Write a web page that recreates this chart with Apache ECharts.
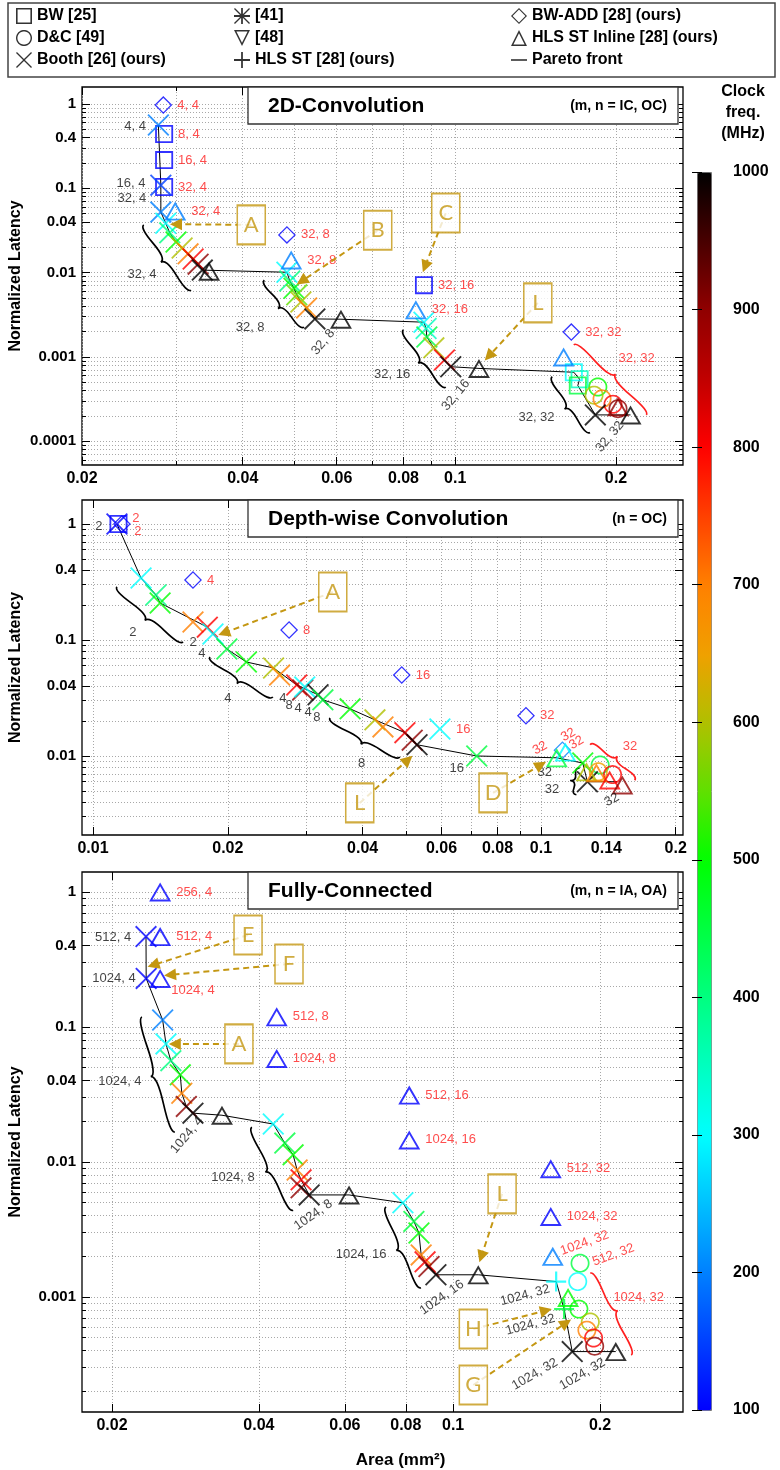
<!DOCTYPE html>
<html><head><meta charset="utf-8">
<script src="https://cdn.jsdelivr.net/npm/echarts@6/dist/echarts.min.js"></script>
<style>html,body{margin:0;padding:0;background:#fff}#c{width:780px;height:1470px}</style>
</head><body><div id="c"></div>
<script>
// ======================= DATA =======================
// marker rows: [area (mm^2), normalized latency, clock freq (MHz), red label]
// ---- 2D convolution ----
const conv2dBW = [[0.0285,0.44,100,'8, 4'],[0.0285,0.216,100,'16, 4'],[0.0285,0.1035,100,'32, 4'],[0.0874,0.0071,100,'32, 16'],
  [0.1668,0.000658,300,''],[0.171,0.000544,350,''],[0.1697,0.000458,450,'']];
const conv2dDC = [[0.185,0.00044,500,''],[0.182,0.000352,600,''],[0.1884,0.000318,700,''],[0.1975,0.000274,800,''],[0.2018,0.000243,900,'']];
const conv2dBooth = [[0.0278,0.563,200,''],[0.0281,0.109,150,''],[0.0281,0.0522,200,''],[0.0287,0.0385,300,''],[0.0292,0.0296,400,''],
  [0.030,0.0231,500,''],[0.0308,0.0196,600,''],[0.0316,0.0167,700,''],[0.0323,0.0145,800,''],[0.033,0.0126,900,''],[0.0336,0.0107,1000,''],
  [0.0484,0.0101,300,''],[0.049,0.00795,400,''],[0.0499,0.00653,500,''],[0.0505,0.00545,550,''],[0.0514,0.00448,600,''],[0.0527,0.00381,700,''],[0.0546,0.00282,1000,''],
  [0.0874,0.00258,300,''],[0.0882,0.00217,350,''],[0.0885,0.00172,450,''],[0.0912,0.00128,600,''],[0.0955,0.000921,800,''],[0.0981,0.000765,1000,''],
  [0.183,0.000205,1000,'']];
const conv2dHLSST = [];
const conv2dBWADD = [[0.0284,0.97,100,'4, 4'],[0.0484,0.028,100,'32, 8'],[0.165,0.00197,100,'32, 32']];
const conv2dInline = [[0.0299,0.0537,200,'32, 4'],[0.0346,0.0104,1000,''],[0.0493,0.0141,200,'32, 8'],[0.0611,0.0028,1000,''],
  [0.0844,0.00362,200,'32, 16'],[0.1108,0.00073,1000,''],[0.1596,0.001,200,''],[0.2018,0.000256,900,''],[0.213,0.000205,1000,'']];
const conv2dPareto = [[0.0278,0.563],[0.0281,0.109],[0.0281,0.0522],[0.0287,0.0385],[0.0292,0.0296],[0.030,0.0231],[0.0308,0.0196],
  [0.0316,0.0167],[0.0323,0.0145],[0.033,0.0126],[0.0336,0.0107],[0.0484,0.0101],[0.049,0.00795],[0.0499,0.00653],[0.0505,0.00545],
  [0.0514,0.00448],[0.0527,0.00381],[0.0546,0.00282],[0.0611,0.0028],[0.0874,0.00258],[0.0882,0.00217],[0.0885,0.00172],[0.0912,0.00128],
  [0.0955,0.000921],[0.0981,0.000765],[0.1108,0.00073],[0.1668,0.000658],[0.171,0.000544],[0.1697,0.000458],[0.183,0.000205],[0.213,0.000205]];
// text annotations: [area, latency, text, rotation]
const conv2dTextBlack = [[0.02514,0.548,'4, 4',0],[0.0247,0.1158,'16, 4',0],[0.0248,0.0767,'32, 4',0],[0.0259,0.00963,'32, 4',0],
  [0.0413,0.00226,'32, 8',0],[0.0566,0.0015,'32, 8',50],[0.0762,0.000617,'32, 16',0],[0.1003,0.000352,'32, 16',50],
  [0.142,0.000191,'32, 32',0],[0.1948,0.000113,'32, 32',50]];
const conv2dTextRed = [[0.2186,0.000969,'32, 32',0]];
// braces: [area1, lat1, area2, lat2]
const conv2dBraceBlack = [[0.0261,0.0368,0.032,0.0062],[0.0439,0.00814,0.0521,0.00226],[0.08,0.00209,0.096,0.000438],[0.152,0.000581,0.1788,0.000127]];
const conv2dBraceRed = [[0.228,0.000205,0.1668,0.00139]];
// callouts: [box area, box latency, letter, target area, target latency]
const conv2dCallouts = [[0.0415,0.0368,'A',0.030,0.0375],[0.0716,0.0318,'B',0.0516,0.00793],[0.096,0.0509,'C',0.0878,0.0118],[0.1428,0.00437,'L',0.1156,0.00102]];

// ---- Depth-wise convolution ----
const dwBW = [[0.0114,1.0,100,'']];
const dwDC = [[0.1356,0.00836,450,''],[0.1343,0.00731,650,''],[0.1445,0.00691,800,'']];
const dwBooth = [[0.01131,1.0,100,''],[0.0128,0.342,300,''],[0.01382,0.2445,400,''],[0.01412,0.2085,500,''],[0.01672,0.143,700,''],
  [0.018,0.129,800,''],[0.01853,0.1127,300,''],[0.0199,0.0837,450,''],[0.022,0.0646,500,''],[0.0253,0.0574,600,''],[0.0261,0.0498,700,''],
  [0.0285,0.0409,800,''],[0.0294,0.0371,900,''],[0.0297,0.0394,300,''],[0.0318,0.0337,1000,''],[0.0326,0.0305,450,''],[0.0375,0.0255,500,''],
  [0.0426,0.0205,600,''],[0.0444,0.0178,700,''],[0.0497,0.0159,800,''],[0.0516,0.0137,900,''],[0.0529,0.0125,1000,''],[0.0595,0.0171,300,'16'],
  [0.0719,0.01,450,''],[0.124,0.0087,500,''],[0.127,0.006,1000,'']];
const dwHLSST = [];
const dwBWADD = [[0.0116,1.0,100,''],[0.01672,0.329,100,'4'],[0.0274,0.122,100,'8'],[0.0489,0.0499,100,'16'],[0.0926,0.0222,100,'32'],[0.1117,0.0112,200,'']];
const dwInline = [[0.1134,0.0108,300,''],[0.1085,0.00965,450,''],[0.1264,0.00731,600,''],[0.133,0.00718,700,''],[0.1424,0.00622,800,''],[0.152,0.00562,900,'']];
const dwPareto = [[0.01131,1.0],[0.0128,0.342],[0.01382,0.2445],[0.01412,0.2085],[0.018,0.129],[0.01853,0.1127],[0.0199,0.0837],[0.022,0.0646],
  [0.0253,0.0574],[0.0285,0.0409],[0.0318,0.0337],[0.0326,0.0305],[0.0375,0.0255],[0.0426,0.0205],[0.0497,0.0159],[0.0529,0.0125],
  [0.0719,0.01],[0.1085,0.00965],[0.124,0.0087],[0.127,0.006],[0.148,0.006]];
const dwTextBlack = [[0.0103,0.961,'2',0],[0.01228,0.117,'2',0],[0.01672,0.0944,'2',0],[0.0175,0.0772,'4',0],[0.02,0.0311,'4',0],
  [0.02655,0.0316,'4',0],[0.0274,0.0275,'8',0],[0.0287,0.0258,'4',0],[0.0302,0.0236,'4',0],[0.0316,0.0213,'8',0],[0.0398,0.0087,'8',0],
  [0.0649,0.00786,'16',0],[0.102,0.00718,'32',0],[0.1058,0.00511,'32',0],[0.144,0.00419,'32',30]];
const dwTextRed = [[0.01247,1.127,'2',0],[0.01259,0.87,'2',0],[0.0995,0.0117,'32',30],[0.115,0.0152,'32',30],[0.12,0.013,'32',30],[0.158,0.0122,'32',0]];
const dwBraceBlack = [[0.01131,0.287,0.01588,0.0963],[0.01824,0.0714,0.0252,0.0323],[0.0338,0.0213,0.0484,0.00981],[0.122,0.00786,0.12,0.00463]];
const dwBraceRed = [[0.162,0.00619,0.1288,0.0125]];
const dwCallouts = [[0.0343,0.259,'A',0.0196,0.115],[0.0394,0.00394,'L',0.0505,0.00927],[0.0782,0.00481,'D',0.1,0.00838]];

// ---- Fully-connected ----
const fcBW = [];
const fcDC = [[0.182,0.00178,450,''],[0.180,0.0013,300,''],[0.181,0.000813,500,''],[0.191,0.000653,600,''],[0.188,0.000568,700,''],
  [0.194,0.000497,800,''],[0.195,0.000432,900,'']];
const fcBooth = [[0.02348,0.467,100,''],[0.0235,0.229,100,''],[0.0254,0.1126,200,''],[0.0258,0.0749,300,''],[0.0264,0.0563,400,''],
  [0.0276,0.0442,500,''],[0.0278,0.0323,700,''],[0.0284,0.0258,900,''],[0.0293,0.023,1000,''],
  [0.0428,0.0191,300,''],[0.0452,0.0138,450,''],[0.047,0.0113,500,''],[0.0479,0.00872,700,''],[0.0488,0.00737,800,''],[0.0488,0.00643,900,''],[0.0507,0.0057,1000,''],
  [0.0789,0.00499,300,''],[0.0831,0.00363,450,''],[0.0851,0.00298,500,''],[0.086,0.00205,700,''],[0.0876,0.00182,800,''],[0.0892,0.00168,900,''],[0.0922,0.00146,1000,''],
  [0.1754,0.000394,1000,'']];
const fcHLSST = [[0.1626,0.0013,300,''],[0.1688,0.000813,450,'']];
const fcBWADD = [];
const fcInline = [[0.0251,1.0,100,'256, 4'],[0.0251,0.467,100,'512, 4'],[0.0251,0.229,100,''],[0.0336,0.0222,1000,''],
  [0.0435,0.119,100,'512, 8'],[0.0435,0.0585,100,'1024, 8'],[0.0612,0.0057,1000,''],[0.0813,0.0313,100,'512, 16'],[0.0813,0.01457,100,'1024, 16'],
  [0.1126,0.00146,1000,''],[0.1585,0.00892,100,'512, 32'],[0.1585,0.00395,100,'1024, 32'],[0.160,0.002,200,''],[0.172,0.000991,500,''],[0.2154,0.000394,1000,'']];
const fcPareto = [[0.02348,0.467],[0.0235,0.229],[0.0254,0.1126],[0.0258,0.0749],[0.0264,0.0563],[0.0276,0.0442],[0.0278,0.0323],[0.0284,0.0258],
  [0.0293,0.023],[0.0336,0.0222],[0.0428,0.0191],[0.0452,0.0138],[0.047,0.0113],[0.0479,0.00872],[0.0488,0.00737],[0.0507,0.0057],[0.0612,0.0057],
  [0.0789,0.00499],[0.0831,0.00363],[0.0851,0.00298],[0.086,0.00205],[0.0876,0.00182],[0.0922,0.00146],[0.1126,0.00146],[0.1626,0.0013],
  [0.1688,0.000813],[0.1754,0.000394],[0.2154,0.000394]];
const fcTextBlack = [[0.0201,0.464,'512, 4',0],[0.02019,0.2304,'1024, 4',0],[0.02076,0.0398,'1024, 4',0],[0.0285,0.0158,'1024, 4',50],
  [0.0354,0.00774,'1024, 8',0],[0.0517,0.00405,'1024, 8',35],[0.0648,0.00205,'1024, 16',0],[0.0948,0.000992,'1024, 16',35],
  [0.1404,0.00103,'1024, 32',15],[0.144,0.000622,'1024, 32',15],[0.147,0.000268,'1024, 32',30],[0.184,0.000268,'1024, 32',30]];
const fcTextRed = [[0.0293,0.188,'1024, 4',0],[0.186,0.00251,'1024, 32',20],[0.213,0.00205,'512, 32',20],[0.24,0.000992,'1024, 32',0]];
const fcBraceBlack = [[0.02304,0.1185,0.0269,0.0167],[0.0387,0.0181,0.047,0.00439],[0.0729,0.00464,0.0859,0.00117]];
const fcBraceRed = [[0.2316,0.000371,0.191,0.0015]];
const fcCallouts = [[0.038,0.48,'E',0.0243,0.288],[0.0461,0.293,'F',0.0263,0.243],[0.0364,0.0749,'A',0.0269,0.0749],
  [0.126,0.00581,'L',0.1142,0.00199],[0.110,0.000579,'H',0.155,0.000793],[0.110,0.000223,'G',0.1704,0.000643]];

// ---- tick labels & grid values ----
const conv2dXTicks = [0.02,0.04,0.06,0.08,0.1,0.2];
const conv2dXGrid = [0.02,0.03,0.04,0.05,0.06,0.07,0.08,0.09,0.1,0.2];
const conv2dYTicks = [1,0.4,0.1,0.04,0.01,0.001,0.0001];
const dwXTicks = [0.01,0.02,0.04,0.06,0.08,0.1,0.14,0.2];
const dwXGrid = [0.01,0.02,0.03,0.04,0.05,0.06,0.07,0.08,0.09,0.1,0.14,0.2];
const dwYTicks = [1,0.4,0.1,0.04,0.01];
const fcXTicks = [0.02,0.04,0.06,0.08,0.1,0.2];
const fcXGrid = [0.02,0.04,0.06,0.08,0.1,0.2];
const fcYTicks = [1,0.4,0.1,0.04,0.01,0.001];
const freqRange = [100,1000];

// ======================= STYLE / LAYOUT =======================
const FONT = "'Liberation Sans', Arial, Helvetica, sans-serif";
const GOLD = '#c49712';
const RED = '#ff2020';
const GRID_LEFT = 82, GRID_W = 601;
const panels = [
  {title:'2D-Convolution', sub:'(m, n = IC, OC)', top:87, height:378, xr:[0.02,0.2671], yr:[5.22e-5,1.591],
   xTicks:conv2dXTicks, xGrid:conv2dXGrid, yTicks:conv2dYTicks,
   BW:conv2dBW, DC:conv2dDC, Booth:conv2dBooth, HLSST:conv2dHLSST, BWADD:conv2dBWADD, Inline:conv2dInline, pareto:conv2dPareto,
   tb:conv2dTextBlack, tr:conv2dTextRed, bb:conv2dBraceBlack, br:conv2dBraceRed, co:conv2dCallouts},
  {title:'Depth-wise Convolution', sub:'(n = OC)', top:500, height:335, xr:[0.00945,0.2076], yr:[0.002084,1.61],
   xTicks:dwXTicks, xGrid:dwXGrid, yTicks:dwYTicks,
   BW:dwBW, DC:dwDC, Booth:dwBooth, HLSST:dwHLSST, BWADD:dwBWADD, Inline:dwInline, pareto:dwPareto,
   tb:dwTextBlack, tr:dwTextRed, bb:dwBraceBlack, br:dwBraceRed, co:dwCallouts},
  {title:'Fully-Connected', sub:'(m, n = IA, OA)', top:872, height:540, xr:[0.01736,0.2958], yr:[1.406e-4,1.406],
   xTicks:fcXTicks, xGrid:fcXGrid, yTicks:fcYTicks,
   BW:fcBW, DC:fcDC, Booth:fcBooth, HLSST:fcHLSST, BWADD:fcBWADD, Inline:fcInline, pareto:fcPareto,
   tb:fcTextBlack, tr:fcTextRed, bb:fcBraceBlack, br:fcBraceRed, co:fcCallouts}
];

// symbol outlines (0..100 box, holes by reverse winding)
function ringCircle(n, r1, r2){
  let s='';
  for(let i=0;i<=n;i++){const a=2*Math.PI*i/n; s+=(i?'L':'M')+(50+r1*Math.cos(a)).toFixed(2)+','+(50+r1*Math.sin(a)).toFixed(2);}
  s+='Z';
  for(let i=0;i<=n;i++){const a=-2*Math.PI*i/n; s+=(i?'L':'M')+(50+r2*Math.cos(a)).toFixed(2)+','+(50+r2*Math.sin(a)).toFixed(2);}
  return s+'Z';
}
const P_SQUARE = 'M0,0L100,0L100,100L0,100Z M10,10L10,90L90,90L90,10Z';
const P_CIRCLE = ringCircle(48,50,41);
const P_TRI = 'M50,0L100,100L0,100Z M50,20L15,90L85,90Z';
const P_INVTRI = 'M0,0L100,0L50,100Z M15,10L50,80L85,10Z';
const P_DIAMOND = 'M50,0L100,50L50,100L0,50Z M50,10L10,50L50,90L90,50Z';
const P_X = 'M0,6L6,0L50,44L94,0L100,6L56,50L100,94L94,100L50,56L6,100L0,94L44,50Z';
const P_PLUS = 'M44.5,0L55.5,0L55.5,44.5L100,44.5L100,55.5L55.5,55.5L55.5,100L44.5,100L44.5,55.5L0,55.5L0,44.5L44.5,44.5Z';
const P_LINE = 'M0,0L100,0L100,8L0,8Z';
const P_HEAD = 'M50,0L100,100L0,100Z';
const sym = p => 'path://' + p;

const markerTypes = [
  {key:'BW', name:'BW [25]', path:P_SQUARE, size:[18,18]},
  {key:'DC', name:'D&C [49]', path:P_CIRCLE, size:[19,19]},
  {key:'Booth', name:'Booth [26] (ours)', path:P_X, size:[22,22]},
  {key:'HLSST', name:'HLS ST [28] (ours)', path:P_PLUS, size:[20,20]},
  {key:'BWADD', name:'BW-ADD [28] (ours)', path:P_DIAMOND, size:[18,18]},
  {key:'Inline', name:'HLS ST Inline [28] (ours)', path:P_TRI, size:[22,19]}
];

function bracePath(x1,y1,x2,y2,w,q){
  let dx=x1-x2, dy=y1-y2; const len=Math.hypot(dx,dy); dx/=len; dy/=len;
  const qx1=x1+q*w*dy, qy1=y1-q*w*dx;
  const qx2=(x1-.25*len*dx)+(1-q)*w*dy, qy2=(y1-.25*len*dy)-(1-q)*w*dx;
  const tx=(x1-.5*len*dx)+w*dy, ty=(y1-.5*len*dy)-w*dx;
  const qx3=x2+q*w*dy, qy3=y2-q*w*dx;
  const qx4=(x1-.75*len*dx)+(1-q)*w*dy, qy4=(y1-.75*len*dy)-(1-q)*w*dx;
  const c1x=2*qx2-qx1, c1y=2*qy2-qy1, c2x=2*qx4-qx3, c2y=2*qy4-qy3;
  const f=v=>v.toFixed(2);
  return `M${f(x1)} ${f(y1)} Q${f(qx1)} ${f(qy1)} ${f(qx2)} ${f(qy2)} Q${f(c1x)} ${f(c1y)} ${f(tx)} ${f(ty)} M${f(x2)} ${f(y2)} Q${f(qx3)} ${f(qy3)} ${f(qx4)} ${f(qy4)} Q${f(c2x)} ${f(c2y)} ${f(tx)} ${f(ty)}`;
}

const fmt = v => String(+v.toPrecision(6));
const isTick = (v, arr) => arr.some(t => Math.abs(v - t) / t < 1e-6);

const grids = [], xAxes = [], yAxes = [], series = [], markerIdx = [];
panels.forEach((p, i) => {
  grids.push({left:GRID_LEFT, top:p.top, width:GRID_W, height:p.height, show:true, borderColor:'#000', borderWidth:1.3, backgroundColor:'transparent'});
  xAxes.push({type:'log', logBase:10, gridIndex:i, min:p.xr[0], max:p.xr[1], axisLine:{show:false}, axisTick:{show:false},
    axisLabel:{show:false}, splitLine:{show:false},
    name: i === 2 ? 'Area (mm²)' : '', nameLocation:'middle', nameGap:40,
    nameTextStyle:{fontFamily:FONT, fontWeight:'bold', fontSize:17, color:'#000', padding:[0,0,0,36]}});
  yAxes.push({type:'log', logBase:10, gridIndex:i, min:p.yr[0], max:p.yr[1], axisLine:{show:false}, axisTick:{show:false},
    axisLabel:{show:false}, splitLine:{show:false},
    name:'Normalized Latency', nameLocation:'middle', nameGap:58,
    nameTextStyle:{fontFamily:FONT, fontWeight:'bold', fontSize:16, color:'#000'}});

  const [x0, x1] = p.xr, [y0, y1] = p.yr;
  const yGrid = [];
  for (let n = Math.floor(Math.log10(y0)); n <= Math.ceil(Math.log10(y1)); n++)
    for (let k = 1; k <= 9; k++) { const v = +(k * Math.pow(10, n)).toPrecision(6); if (v >= y0 && v <= y1) yGrid.push(v); }
  const pxDecX = GRID_W / Math.log10(x1 / x0), pxDecY = p.height / Math.log10(y1 / y0);
  const lenF = (px, dec) => Math.pow(10, px / dec);

  // horizontal grid lines + y tick labels
  series.push({type:'line', xAxisIndex:i, yAxisIndex:i, data:[], silent:true, z:1,
    markLine:{silent:true, symbol:['none','none'], z:1, animation:false,
      lineStyle:{color:'#a8a8a8', type:[1,2], width:1},
      label:{show:true, position:'start', formatter:'{b}', distance:6, fontFamily:FONT, fontWeight:'bold', fontSize:15, color:'#000'},
      emphasis:{disabled:true},
      data: yGrid.map(v => [{coord:[x0, v], name: isTick(v, p.yTicks) ? fmt(v) : ''}, {coord:[x1, v]}])}});
  // vertical grid lines + x tick labels
  series.push({type:'line', xAxisIndex:i, yAxisIndex:i, data:[], silent:true, z:1,
    markLine:{silent:true, symbol:['none','none'], z:1, animation:false,
      lineStyle:{color:'#a8a8a8', type:[1,2], width:1},
      label:{show:true, position:'start', formatter:'{b}', distance:6, fontFamily:FONT, fontWeight:'bold', fontSize:16, color:'#000'},
      emphasis:{disabled:true},
      data: p.xGrid.map(v => [{coord:[v, y0], name: isTick(v, p.xTicks) ? fmt(v) : ''}, {coord:[v, y1]}])}});
  // tick marks
  const ticks = [];
  yGrid.forEach(v => { const L = isTick(v, p.yTicks) ? 8 : 4; const f = lenF(L, pxDecX);
    ticks.push([{coord:[x0, v]}, {coord:[x0 * f, v]}]); ticks.push([{coord:[x1, v]}, {coord:[x1 / f, v]}]); });
  p.xGrid.forEach(v => { const L = isTick(v, p.xTicks) ? 8 : 4; const f = lenF(L, pxDecY);
    ticks.push([{coord:[v, y0]}, {coord:[v, y0 * f]}]); ticks.push([{coord:[v, y1]}, {coord:[v, y1 / f]}]); });
  series.push({type:'line', xAxisIndex:i, yAxisIndex:i, data:[], silent:true, z:1,
    markLine:{silent:true, symbol:['none','none'], z:2, animation:false, label:{show:false},
      lineStyle:{color:'#000', type:'solid', width:1}, emphasis:{disabled:true}, data:ticks}});

  // braces
  [[p.bb, '#000'], [p.br, RED]].forEach(([arr, col]) => {
    series.push({type:'custom', xAxisIndex:i, yAxisIndex:i, silent:true, z:3, data:arr,
      renderItem:(params, api) => {
        const a = api.coord([api.value(0), api.value(1)]), b = api.coord([api.value(2), api.value(3)]);
        return {type:'path', shape:{pathData: bracePath(a[0], a[1], b[0], b[1], 8, 0.6)},
          style:{stroke:col, fill:'none', lineWidth:1.7}};
      }});
  });

  // pareto line
  series.push({type:'line', name:'Pareto front', xAxisIndex:i, yAxisIndex:i, data:p.pareto, symbol:'none', silent:true, z:3,
    lineStyle:{color:'#000', width:1}, emphasis:{disabled:true}});

  // markers
  markerTypes.forEach(mt => {
    markerIdx.push(series.length);
    series.push({type:'scatter', name:mt.name, xAxisIndex:i, yAxisIndex:i, data:p[mt.key], symbol:sym(mt.path), symbolSize:mt.size, z:4,
      silent:true, emphasis:{disabled:true},
      label:{show:true, position:'right', distance:5, color:RED, fontSize:13, fontFamily:FONT,
        formatter: q => (q.value && q.value[3]) || ''}});
  });

  // text annotations
  [[p.tb, '#111'], [p.tr, RED]].forEach(([arr, col]) => {
    series.push({type:'scatter', xAxisIndex:i, yAxisIndex:i, symbol:'circle', symbolSize:1, silent:true, z:6,
      itemStyle:{color:'rgba(0,0,0,0)'}, emphasis:{disabled:true},
      data: arr.map(a => ({value:[a[0], a[1]], name:a[2], label:{rotate:a[3] || 0}})),
      label:{show:true, position:'inside', formatter:'{b}', color:col, fontSize:13, fontFamily:FONT}});
  });

  // callout arrows (under boxes) and boxes
  series.push({type:'line', xAxisIndex:i, yAxisIndex:i, data:[], silent:true, z:7,
    markLine:{silent:true, z:7, animation:false, symbol:['none', sym(P_HEAD)], symbolSize:12, label:{show:false},
      itemStyle:{color:GOLD},
      lineStyle:{color:GOLD, width:2, type:[6,4]}, emphasis:{disabled:true},
      data: p.co.map(a => [{coord:[a[0], a[1]]}, {coord:[a[3], a[4]]}])}});
  series.push({type:'scatter', xAxisIndex:i, yAxisIndex:i, symbol:'rect', symbolSize:[28,39], silent:true, z:10,
    itemStyle:{color:'#fff', borderColor:GOLD, borderWidth:1.8}, emphasis:{disabled:true},
    data: p.co.map(a => ({value:[a[0], a[1]], name:a[2]})),
    label:{show:true, position:'inside', formatter:'{b}', color:GOLD, fontSize:22, fontFamily:'Lato'}});
});

// legend-only series
markerIdx.push(series.length);
series.push({type:'scatter', name:'[41]', xAxisIndex:0, yAxisIndex:0, data:[], symbol:sym(P_X + ' ' + P_PLUS)});
markerIdx.push(series.length);
series.push({type:'scatter', name:'[48]', xAxisIndex:0, yAxisIndex:0, data:[], symbol:sym(P_INVTRI)});

// colorbar axis grid
grids.push({left:697, top:172, width:14, height:1238, show:false});
xAxes.push({type:'value', gridIndex:3, show:false});
yAxes.push({type:'value', gridIndex:3, min:freqRange[0], max:freqRange[1], interval:100, position:'right', z:10,
  axisLine:{show:false}, splitLine:{show:false},
  axisTick:{show:true, inside:true, length:5, lineStyle:{color:'#000', width:1}},
  axisLabel:{margin:22, fontFamily:FONT, fontWeight:'bold', fontSize:16, color:'#000', formatter: v => String(v)}});
yAxes.push({type:'value', gridIndex:3, min:freqRange[0], max:freqRange[1], interval:100, position:'left', z:10,
  axisLine:{show:false}, splitLine:{show:false}, axisLabel:{show:false},
  axisTick:{show:true, inside:true, length:5, lineStyle:{color:'#000', width:1}}});

const legendItem = (name, path) => ({name, icon:sym(path), itemStyle:{color:'#000', borderWidth:0}});
const legendBase = {orient:'vertical', top:8, itemWidth:16, itemHeight:16, itemGap:6, padding:0, selectedMode:false,
  textStyle:{fontFamily:FONT, fontWeight:'bold', fontSize:16, color:'#000'}};

const option = {
  animation:false,
  backgroundColor:'#fff',
  grid: grids, xAxis: xAxes, yAxis: yAxes,
  legend: [
    Object.assign({left:16, data:[legendItem('BW [25]', P_SQUARE), legendItem('D&C [49]', P_CIRCLE), legendItem('Booth [26] (ours)', P_X)]}, legendBase),
    Object.assign({left:234, data:[legendItem('[41]', P_X + ' ' + P_PLUS), legendItem('[48]', P_INVTRI), legendItem('HLS ST [28] (ours)', P_PLUS)]}, legendBase),
    Object.assign({left:511, data:[legendItem('BW-ADD [28] (ours)', P_DIAMOND), legendItem('HLS ST Inline [28] (ours)', P_TRI), legendItem('Pareto front', P_LINE)]}, legendBase)
  ],
  visualMap: {
    type:'continuous', min:freqRange[0], max:freqRange[1], dimension:2, seriesIndex:markerIdx,
    left:697, top:172, itemWidth:14, itemHeight:1238, padding:0, calculable:false, hoverLink:false,
    borderColor:'#777', borderWidth:1,
    inRange:{color:['#0000ff','#0040ff','#0080ff','#00c0ff','#00ffff','#00ffc0','#00ff80','#00ff40','#00ff00','#60e000',
      '#b0c000','#f0a000','#ff8000','#ff4000','#ff0000','#c00000','#900000','#480000','#000000']}
  },
  graphic: [
    {type:'rect', z:50, silent:true, shape:{x:8, y:3, width:767, height:74}, style:{fill:'none', stroke:'#444', lineWidth:1.5}},
    ...panels.flatMap(p => [
      {type:'rect', z:50, silent:true, shape:{x:248, y:p.top, width:430, height:37}, style:{fill:'#fff', stroke:'#333', lineWidth:1.3}},
      {type:'text', z:51, silent:true, x:268, y:p.top + 19, style:{text:p.title, font:`bold 21px ${FONT}`, fill:'#000', textVerticalAlign:'middle'}},
      {type:'text', z:51, silent:true, x:667, y:p.top + 19, style:{text:p.sub, font:`bold 14px ${FONT}`, fill:'#000', textAlign:'right', textVerticalAlign:'middle'}}
    ]),
    {type:'text', z:50, silent:true, x:743, y:113, style:{text:'Clock\nfreq.\n(MHz)', font:`bold 16px ${FONT}`, fill:'#000', textAlign:'center', textVerticalAlign:'middle', lineHeight:21}}
  ],
  series
};

const chart = echarts.init(document.getElementById('c'), null, {renderer:'canvas'});
chart.setOption(option);
</script>
</body></html>
